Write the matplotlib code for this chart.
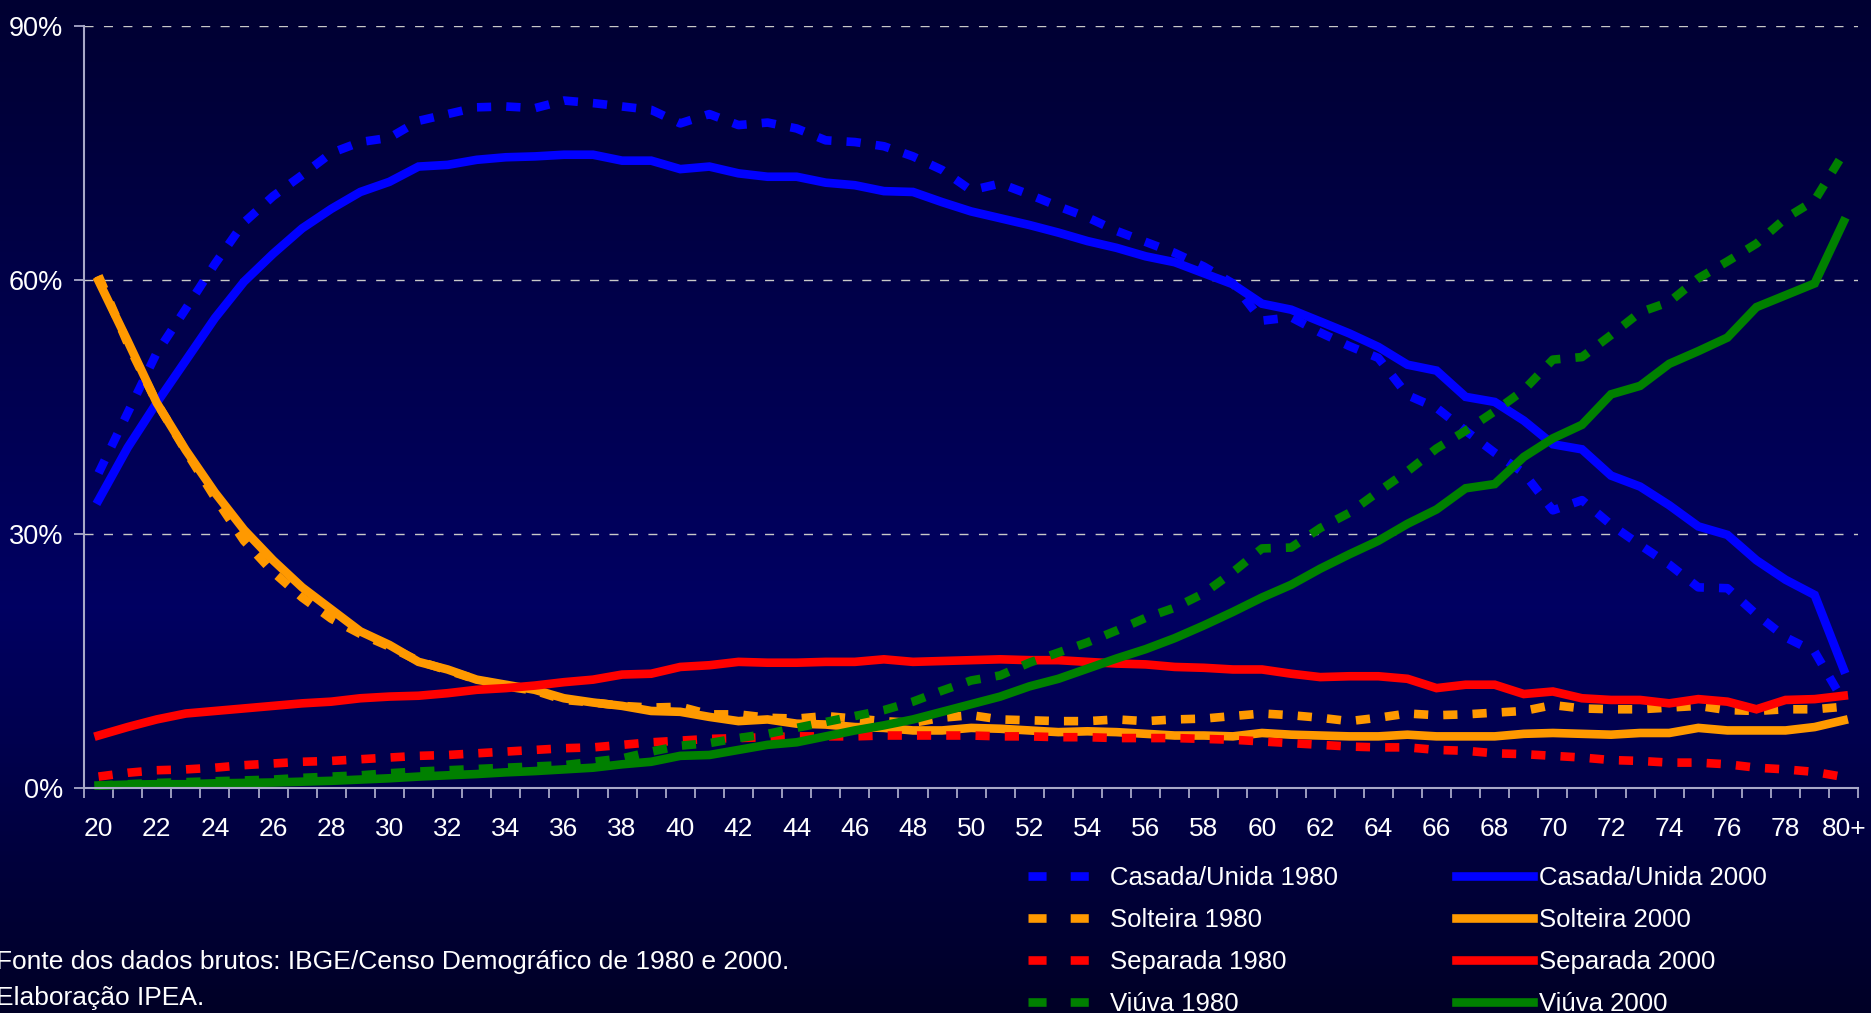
import matplotlib.pyplot as plt
import numpy as np
from matplotlib.colors import LinearSegmentedColormap
from matplotlib.lines import Line2D

plt.rcParams['font.family'] = ['Liberation Sans', 'DejaVu Sans']

# idade 20 ... 79, 80+
ages = [str(a) for a in range(20, 80)] + ['80+']

casada_1980 = [37.2, 44.3, 51.4, 56.6, 61.9, 66.8, 69.9, 72.4, 75.0, 76.3,
               76.8, 78.8, 79.6, 80.4, 80.5, 80.3, 81.2, 80.9, 80.5, 80.1,
               78.5, 79.6, 78.3, 78.6, 77.9, 76.5, 76.3, 75.8, 74.6, 73.0,
               70.6, 71.4, 70.1, 68.7, 67.4, 65.8, 64.5, 63.2, 61.6, 59.6,
               55.2, 55.6, 53.8, 52.2, 50.8, 46.4, 44.9, 42.2, 39.6, 37.2,
               32.8, 34.0, 31.1, 28.7, 26.4, 23.7, 23.6, 20.5, 17.8, 16.1,
               10.2]
casada_2000 = [34.0, 40.2, 45.5, 50.5, 55.5, 59.8, 63.1, 66.1, 68.4, 70.4,
               71.6, 73.4, 73.6, 74.2, 74.5, 74.6, 74.8, 74.8, 74.1, 74.1,
               73.1, 73.4, 72.6, 72.2, 72.2, 71.5, 71.2, 70.5, 70.4, 69.2,
               68.1, 67.3, 66.5, 65.6, 64.6, 63.8, 62.8, 62.1, 60.8, 59.5,
               57.2, 56.5, 55.1, 53.7, 52.1, 50.0, 49.3, 46.2, 45.6, 43.4,
               40.6, 40.0, 36.9, 35.6, 33.4, 30.9, 29.9, 26.9, 24.6, 22.8,
               14.0]
solteira_1980 = [60.5, 52.5, 45.5, 39.8, 34.3, 29.2, 25.5, 22.5, 20.0, 18.2,
                 16.7, 15.0, 13.9, 12.8, 12.0, 11.5, 10.4, 10.1, 9.7, 9.5,
                 9.6, 8.7, 8.7, 8.3, 8.2, 8.5, 8.2, 7.9, 7.7, 8.3,
                 8.6, 8.1, 8.0, 7.9, 7.9, 8.1, 7.9, 8.1, 8.2, 8.5,
                 8.8, 8.6, 8.3, 7.9, 8.3, 8.8, 8.6, 8.7, 8.9, 9.1,
                 9.8, 9.4, 9.3, 9.3, 9.5, 9.7, 9.2, 9.1, 9.3, 9.3,
                 9.6]
solteira_2000 = [59.9, 52.8, 45.5, 39.9, 34.9, 30.5, 26.9, 23.7, 21.1, 18.5,
                 16.9, 14.9, 14.0, 12.8, 12.2, 11.6, 10.6, 10.1, 9.7, 9.1,
                 9.0, 8.4, 7.9, 8.1, 7.6, 7.5, 7.2, 7.1, 6.8, 6.8,
                 7.1, 7.0, 6.8, 6.6, 6.7, 6.6, 6.4, 6.2, 6.2, 6.1,
                 6.5, 6.3, 6.2, 6.1, 6.1, 6.3, 6.1, 6.1, 6.1, 6.4,
                 6.5, 6.4, 6.3, 6.5, 6.5, 7.1, 6.8, 6.8, 6.8, 7.2,
                 8.0]
separada_1980 = [1.35, 1.8, 2.1, 2.2, 2.4, 2.7, 2.9, 3.1, 3.2, 3.4,
                 3.6, 3.8, 3.9, 4.1, 4.3, 4.5, 4.7, 4.8, 5.1, 5.4,
                 5.6, 5.8, 5.9, 6.0, 6.1, 6.1, 6.1, 6.2, 6.2, 6.2,
                 6.2, 6.1, 6.1, 6.0, 6.0, 5.9, 5.9, 5.9, 5.8, 5.7,
                 5.5, 5.3, 5.1, 4.9, 4.8, 4.8, 4.5, 4.4, 4.1, 4.0,
                 3.8, 3.6, 3.3, 3.2, 3.0, 3.0, 2.8, 2.4, 2.2, 1.9,
                 1.3]
separada_2000 = [6.2, 7.2, 8.1, 8.8, 9.1, 9.4, 9.7, 10.0, 10.2, 10.6,
                 10.8, 10.9, 11.2, 11.6, 11.8, 12.1, 12.5, 12.8, 13.4, 13.5,
                 14.3, 14.5, 14.9, 14.8, 14.8, 14.9, 14.9, 15.2, 14.9, 15.0,
                 15.1, 15.2, 15.1, 15.1, 14.9, 14.7, 14.6, 14.3, 14.2, 14.0,
                 14.0, 13.5, 13.1, 13.2, 13.2, 12.9, 11.8, 12.2, 12.2, 11.1,
                 11.4, 10.6, 10.4, 10.4, 10.0, 10.5, 10.2, 9.3, 10.4, 10.5,
                 10.9]
viuva_1980 = [0.3, 0.45, 0.6, 0.7, 0.8, 0.9, 1.0, 1.2, 1.35, 1.5,
              1.75, 1.95, 2.1, 2.25, 2.4, 2.55, 2.7, 3.1, 3.5, 4.3,
              5.0, 5.3, 5.9, 6.4, 7.1, 7.8, 8.5, 9.2, 10.2, 11.5,
              12.7, 13.3, 14.8, 16.0, 17.2, 18.6, 20.1, 21.3, 23.0, 25.5,
              28.3, 28.4, 30.7, 32.5, 35.0, 37.4, 40.1, 42.2, 44.5, 47.0,
              50.6, 50.9, 53.5, 56.2, 57.4, 60.2, 62.2, 64.3, 67.3, 69.4,
              75.0]
viuva_2000 = [0.3, 0.4, 0.45, 0.45, 0.55, 0.6, 0.65, 0.75, 0.85, 1.0,
              1.15, 1.35, 1.5, 1.65, 1.85, 2.0, 2.2, 2.4, 2.8, 3.1,
              3.8, 3.9, 4.5, 5.1, 5.4, 6.1, 6.8, 7.4, 8.1, 9.0,
              9.9, 10.8, 12.0, 12.9, 14.1, 15.3, 16.4, 17.7, 19.2, 20.8,
              22.5, 24.0, 25.9, 27.6, 29.2, 31.2, 32.9, 35.4, 35.9, 39.1,
              41.3, 42.9, 46.5, 47.5, 50.1, 51.6, 53.2, 56.8, 58.2, 59.6,
              66.9]

yticks = [0, 30, 60, 90]
ytick_labels = ['0%', '30%', '60%', '90%']

# (label, values, color, year)
series = [
    ('Casada/Unida 1980', casada_1980, '#0000ff', 1980),
    ('Casada/Unida 2000', casada_2000, '#0000ff', 2000),
    ('Solteira 1980', solteira_1980, '#ff9900', 1980),
    ('Solteira 2000', solteira_2000, '#ff9900', 2000),
    ('Separada 1980', separada_1980, '#ff0000', 1980),
    ('Separada 2000', separada_2000, '#ff0000', 2000),
    ('Viúva 1980', viuva_1980, '#008000', 1980),
    ('Viúva 2000', viuva_2000, '#008000', 2000),
]

FS = 18.5
LW = 6.2
axis_col = '#a8a8c8'

fig = plt.figure(figsize=(18.71, 10.13), dpi=100)

# fundo em degrade azul
bg = fig.add_axes([0, 0, 1, 1], zorder=-10)
cmap = LinearSegmentedColormap.from_list(
    'bg', [(0.0, '#000032'), (0.6, '#000062'), (1.0, '#000026')])
bg.imshow(np.linspace(0, 1, 256).reshape(-1, 1), cmap=cmap, aspect='auto',
          extent=[0, 1, 0, 1], origin='upper')
bg.set_axis_off()

ax = fig.add_axes([0.0449, 0.2221, 0.9483, 0.7522])
ax.set_facecolor('none')

x = np.arange(len(ages))
for label, vals, col, year in series:
    ls = (0, (1.65, 1.75)) if year == 1980 else '-'
    ax.plot(x, vals, color=col, lw=LW, linestyle=ls, solid_joinstyle='miter',
            dash_capstyle='butt', clip_on=False)

ax.set_xlim(-0.5, len(ages) - 0.5)
ax.set_ylim(0, 90)

ax.set_yticks(yticks)
ax.set_yticklabels(ytick_labels)
ax.yaxis.grid(True, color='#c8c8c8', linestyle=(0, (6.5, 7.5)), linewidth=1)
ax.set_axisbelow(True)

ax.set_xticks(x[::2])
ax.set_xticklabels(ages[::2])
ax.set_xticks(np.arange(-0.5, len(ages), 1), minor=True)
ax.tick_params(axis='x', which='major', length=0, pad=21, labelsize=19,
               labelcolor='white')
ax.tick_params(axis='x', which='minor', length=7, width=1.3, color=axis_col,
               direction='out')
ax.tick_params(axis='y', length=7, width=1.3, color=axis_col, pad=8,
               labelsize=19.5, labelcolor='white')

for s in ['top', 'right']:
    ax.spines[s].set_visible(False)
for s in ['left', 'bottom']:
    ax.spines[s].set_color(axis_col)
    ax.spines[s].set_linewidth(1.5)

# legenda: 1980 na primeira coluna, 2000 na segunda
order = [0, 2, 4, 6, 1, 3, 5, 7]
handles = []
labels = []
for i in order:
    label, vals, col, year = series[i]
    ls = (0, (2.1, 2.8)) if year == 1980 else '-'
    handles.append(Line2D([], [], color=col, lw=LW, linestyle=ls,
                          dash_capstyle='butt'))
    labels.append(label)
fig.legend(handles, labels, ncol=2, loc='upper left',
           bbox_to_anchor=(0.5494, 0.145), frameon=False, fontsize=FS,
           labelcolor='white', handlelength=3.0, handletextpad=0.2,
           columnspacing=4.6, labelspacing=0.7, borderpad=0,
           borderaxespad=0)

fig.text(-0.002, 0.0503,
         'Fonte dos dados brutos: IBGE/Censo Demográfico de 1980 e 2000.',
         ha='left', va='center', fontsize=19, color='white')
fig.text(-0.002, 0.0148, 'Elaboração IPEA.', ha='left', va='center',
         fontsize=19, color='white')

fig.savefig('out.png', dpi=100)
